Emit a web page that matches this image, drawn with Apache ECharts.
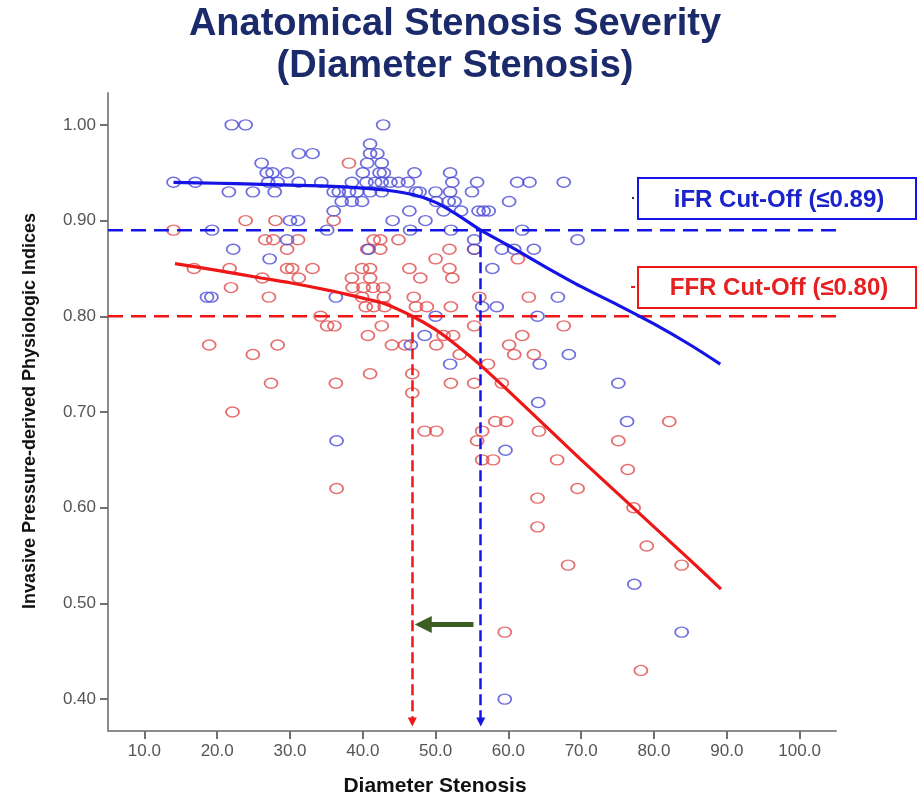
<!DOCTYPE html>
<html>
<head>
<meta charset="utf-8">
<script src="https://cdn.jsdelivr.net/npm/echarts@6/dist/echarts.min.js"></script>
<style>html,body{margin:0;padding:0;background:#fff;}#c{width:918px;height:794px;}</style>
</head>
<body>
<div id="c"></div>
<script>
// ---- data ----
const titleLines = ['Anatomical Stenosis Severity', '(Diameter Stenosis)'];
const xTitle = 'Diameter Stenosis';
const yTitle = 'Invasive Pressure-derived Physiologic Indices';
const xTicks = [10, 20, 30, 40, 50, 60, 70, 80, 90, 100];
const yTicks = [0.4, 0.5, 0.6, 0.7, 0.8, 0.9, 1.0];
const xRange = [5, 105];
const yRange = [0.3667, 1.0333];

const ifrPoints = [
[22.0,1.00],[23.9,1.00],[42.8,1.00],
[41.0,0.98],
[31.2,0.97],[33.1,0.97],[41.0,0.97],[42.0,0.97],
[26.1,0.96],[40.6,0.96],[42.6,0.96],
[26.8,0.95],[27.6,0.95],[29.6,0.95],[40.0,0.95],[42.3,0.95],[42.9,0.95],[47.1,0.95],[52.0,0.95],
[14.0,0.94],[17.0,0.94],[27.0,0.94],[28.3,0.94],[31.2,0.94],[34.3,0.94],[38.5,0.94],[40.5,0.94],[41.7,0.94],[42.6,0.94],[43.8,0.94],[44.9,0.94],[46.2,0.94],[52.3,0.94],[55.7,0.94],[61.2,0.94],[62.9,0.94],[67.6,0.94],
[21.6,0.93],[24.9,0.93],[27.9,0.93],[36.0,0.93],[36.7,0.93],[38.1,0.93],[39.2,0.93],[41.0,0.93],[42.6,0.93],[47.3,0.93],[47.8,0.93],[50.0,0.93],[52.0,0.93],[55.0,0.93],
[37.1,0.92],[38.5,0.92],[39.9,0.92],[50.1,0.92],[51.8,0.92],[52.6,0.92],[60.1,0.92],
[36.0,0.91],[46.4,0.91],[51.1,0.91],[53.5,0.91],[55.9,0.91],[56.6,0.91],[57.3,0.91],
[30.0,0.90],[31.1,0.90],[44.1,0.90],[48.6,0.90],
[19.3,0.89],[35.1,0.89],[46.5,0.89],[52.1,0.89],[61.9,0.89],
[29.6,0.88],[55.3,0.88],[69.5,0.88],
[22.2,0.87],[40.8,0.87],[55.3,0.87],[59.1,0.87],[60.8,0.87],[63.5,0.87],
[27.2,0.86],
[57.8,0.85],
[18.6,0.82],[19.2,0.82],[36.3,0.82],[66.8,0.82],
[56.4,0.81],[58.4,0.81],
[50.0,0.80],[64.0,0.80],
[48.5,0.78],[46.6,0.77],[68.3,0.76],[52.0,0.75],[64.3,0.75],[75.1,0.73],[64.1,0.71],[76.3,0.69],
[36.4,0.67],[59.6,0.66],[77.3,0.52],[83.8,0.47],[59.5,0.40]
];

const ffrPoints = [
[38.1,0.96],
[23.9,0.90],[28.0,0.90],[36.0,0.90],
[14.0,0.89],
[26.6,0.88],[27.7,0.88],[31.1,0.88],[41.5,0.88],[42.4,0.88],[44.9,0.88],
[29.6,0.87],[40.6,0.87],[42.4,0.87],[51.9,0.87],[55.3,0.87],
[50.0,0.86],[61.3,0.86],
[16.8,0.85],[21.7,0.85],[29.6,0.85],[30.3,0.85],[33.1,0.85],[39.9,0.85],[41.0,0.85],[46.4,0.85],[51.9,0.85],
[26.2,0.84],[31.2,0.84],[38.5,0.84],[41.0,0.84],[47.9,0.84],[52.3,0.84],
[21.9,0.83],[38.6,0.83],[40.1,0.83],[41.4,0.83],[42.8,0.83],
[27.1,0.82],[39.9,0.82],[42.9,0.82],[47.0,0.82],[56.0,0.82],[62.8,0.82],
[40.4,0.81],[41.5,0.81],[43.0,0.81],[47.3,0.81],[48.8,0.81],[52.1,0.81],
[34.2,0.80],
[35.1,0.79],[36.1,0.79],[42.6,0.79],[55.3,0.79],[67.6,0.79],
[40.7,0.78],[51.1,0.78],[52.4,0.78],[61.9,0.78],
[18.9,0.77],[28.3,0.77],[44.0,0.77],[45.8,0.77],[50.1,0.77],[60.1,0.77],
[24.9,0.76],[53.3,0.76],[60.8,0.76],[63.5,0.76],
[57.2,0.75],
[41.0,0.74],[46.8,0.74],
[27.4,0.73],[36.3,0.73],[52.1,0.73],[55.3,0.73],[59.1,0.73],
[46.8,0.72],
[22.1,0.70],
[58.2,0.69],[59.7,0.69],[82.1,0.69],
[48.5,0.68],[50.1,0.68],[56.4,0.68],[64.2,0.68],
[55.7,0.67],[75.1,0.67],
[56.4,0.65],[57.9,0.65],[66.7,0.65],
[76.4,0.64],
[36.4,0.62],[69.5,0.62],
[64.0,0.61],[77.2,0.60],[64.0,0.58],[79.0,0.56],[68.2,0.54],[83.8,0.54],[59.5,0.47],[78.2,0.43]
];

const ifrFit = [[14,0.940],[20,0.939],[25,0.938],[30,0.937],[35,0.936],[40,0.934],[43,0.932],[47,0.927],[50,0.919],[53,0.906],[56.2,0.890],[60,0.874],[65,0.852],[70,0.831],[75,0.812],[80,0.792],[85,0.770],[89.1,0.750]];
const ffrFit = [[14.2,0.855],[20,0.848],[26,0.840],[30,0.835],[36,0.826],[40,0.819],[43,0.813],[46.8,0.800],[50,0.786],[53,0.769],[56,0.750],[60,0.722],[65,0.686],[70,0.650],[75,0.615],[80,0.580],[85,0.545],[89.2,0.515]];

const ifrCutoff = 0.89;
const ffrCutoff = 0.80;
const ifrCutX = 56.2;
const ffrCutX = 46.8;
const arrowBottom = 0.376;
const greenArrow = [[55.2, 0.478], [48.3, 0.478]];
const ifrLabel = 'iFR Cut-Off (≤0.89)';
const ffrLabel = 'FFR Cut-Off (≤0.80)';

// ---- styles ----
const BLUE = '#1414e6';
const RED = '#ee1616';
const BLUE_PT = '#4a4ad6';
const RED_PT = '#e04a4a';
const FONT = '"Liberation Sans", Arial, sans-serif';

const chart = echarts.init(document.getElementById('c'), null, {renderer: 'canvas'});

function axisCommon(ticks, fmt) {
  return {
    axisLine: {show: true, onZero: false, lineStyle: {color: '#8c8c8c', width: 2}},
    axisTick: {show: true, length: 8, inside: false, customValues: ticks, lineStyle: {color: '#707070', width: 2}},
    axisLabel: {customValues: ticks, formatter: fmt, color: '#555', fontSize: 17, fontFamily: FONT, margin: 12},
    splitLine: {show: false}
  };
}

const option = {
  animation: false,
  backgroundColor: '#ffffff',
  grid: {left: 108, right: 82, top: 93, bottom: 63, containLabel: false},
  xAxis: Object.assign({type: 'value', min: xRange[0], max: xRange[1]}, axisCommon(xTicks, v => Number(v).toFixed(1))),
  yAxis: Object.assign({type: 'value', min: yRange[0], max: yRange[1]}, axisCommon(yTicks, v => Number(v).toFixed(2))),
  series: [
    {
      type: 'scatter', data: ffrPoints, symbol: 'circle', symbolSize: [13, 10], z: 3,
      itemStyle: {color: 'rgba(255,255,255,0)', borderColor: RED_PT, borderWidth: 1.6}
    },
    {
      type: 'scatter', data: ifrPoints, symbol: 'circle', symbolSize: [13, 10], z: 3,
      itemStyle: {color: 'rgba(255,255,255,0)', borderColor: BLUE_PT, borderWidth: 1.6}
    },
    {
      type: 'line', data: [[xRange[0], ifrCutoff], [xRange[1], ifrCutoff]], symbol: 'none', z: 4,
      lineStyle: {color: BLUE, width: 2.5, type: [15, 8]},
      markLine: {
        silent: true, symbol: ['none', 'triangle'], symbolSize: [9, 9], label: {show: false},
        lineStyle: {color: BLUE, width: 2.5, type: [11, 5]},
        data: [[{coord: [ifrCutX, ifrCutoff]}, {coord: [ifrCutX, arrowBottom]}]]
      }
    },
    {
      type: 'line', data: [[xRange[0], ffrCutoff], [xRange[1], ffrCutoff]], symbol: 'none', z: 4,
      lineStyle: {color: RED, width: 2.5, type: [15, 8]},
      markLine: {
        silent: true, symbol: ['none', 'triangle'], symbolSize: [9, 9], label: {show: false},
        lineStyle: {color: RED, width: 2.5, type: [11, 5]},
        data: [[{coord: [ffrCutX, ffrCutoff]}, {coord: [ffrCutX, arrowBottom]}]]
      }
    },
    {
      type: 'line', data: ifrFit, smooth: 0.3, symbol: 'none', z: 5,
      lineStyle: {color: BLUE, width: 3.2}
    },
    {
      type: 'line', data: ffrFit, smooth: 0.3, symbol: 'none', z: 5,
      lineStyle: {color: RED, width: 3.2}
    },
    {
      type: 'line', data: [], symbol: 'none', z: 6,
      markLine: {
        silent: true, symbol: ['none', 'triangle'], symbolSize: [17, 17], label: {show: false},
        lineStyle: {color: '#3d5e22', width: 5, type: 'solid'},
        data: [[{coord: greenArrow[0]}, {coord: greenArrow[1]}]]
      }
    }
  ],
  graphic: [
    {type: 'text', x: 455, y: 25, style: {text: titleLines[0], font: 'bold 38px ' + FONT, fill: '#1b2a6b', textAlign: 'center', textVerticalAlign: 'middle'}},
    {type: 'text', x: 455, y: 67, style: {text: titleLines[1], font: 'bold 38px ' + FONT, fill: '#1b2a6b', textAlign: 'center', textVerticalAlign: 'middle'}},
    {type: 'text', x: 435, y: 786, style: {text: xTitle, font: 'bold 21px ' + FONT, fill: '#111', textAlign: 'center', textVerticalAlign: 'middle'}},
    {type: 'text', x: 30, y: 411, rotation: Math.PI / 2, style: {text: yTitle, font: 'bold 18px ' + FONT, fill: '#111', textAlign: 'center', textVerticalAlign: 'middle'}},
    {type: 'rect', shape: {x: 638, y: 178, width: 278, height: 41}, style: {fill: '#fff', stroke: BLUE, lineWidth: 2}, z: 10},
    {type: 'text', x: 779, y: 200, z: 11, style: {text: ifrLabel, font: 'bold 24px ' + FONT, fill: '#1a22cc', textAlign: 'center', textVerticalAlign: 'middle'}},
    {type: 'rect', shape: {x: 638, y: 267, width: 278, height: 41}, style: {fill: '#fff', stroke: RED, lineWidth: 2}, z: 10},
    {type: 'text', x: 779, y: 288, z: 11, style: {text: ffrLabel, font: 'bold 24px ' + FONT, fill: '#e62020', textAlign: 'center', textVerticalAlign: 'middle'}},
    {type: 'rect', shape: {x: 632, y: 197, width: 2, height: 2}, style: {fill: '#333'}, z: 10},
    {type: 'rect', shape: {x: 631, y: 286, width: 4, height: 2}, style: {fill: RED}, z: 10}
  ]
};
chart.setOption(option);
</script>
</body>
</html>
